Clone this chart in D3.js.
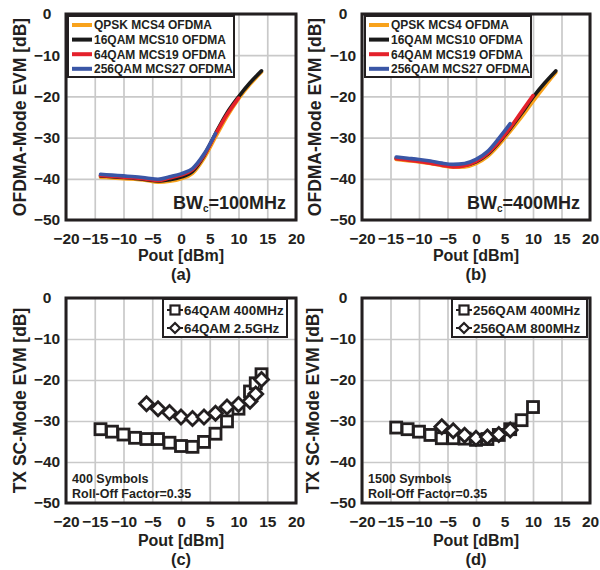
<!DOCTYPE html>
<html>
<head>
<meta charset="utf-8">
<script src="https://cdn.jsdelivr.net/npm/d3@7"></script>
<style>
  body { margin: 0; background: #fff; }
  svg text { font-family: "Liberation Sans", Arial, sans-serif; font-weight: bold; fill: #231f20; }
</style>
</head>
<body>
<div id="chart"></div>
<script>
// ---- data ----
const xTicks = [-20, -15, -10, -5, 0, 5, 10, 15, 20];
const yTicks = [0, -10, -20, -30, -40, -50];

// (a) BWc = 100MHz
const poutA = [-14, -12, -10, -8, -6, -4, -2, 0, 2, 4, 6, 8, 10, 12, 14];
const qpskA  = [-39.6, -39.8, -40.0, -40.1, -40.4, -40.8, -40.6, -40.0, -38.7, -35.0, -29.9, -24.9, -20.6, -17.1, -14.1];
const qam16A = [-39.3, -39.5, -39.7, -39.9, -40.2, -40.5, -40.2, -39.6, -38.2, -34.4, -29.0, -24.0, -20.1, -16.7, -13.8];
const qam64A = [-39.2, -39.4, -39.6, -39.8, -40.1, -40.4, -39.8, -39.1, -37.8, -34.3, -29.2, -24.4, -20.4];
const qam256A = [-38.9, -39.1, -39.3, -39.5, -39.8, -40.1, -39.5, -38.8, -37.5, -34.0, -29.0];

// (b) BWc = 400MHz
const poutB = [-14, -12, -10, -8, -6, -4, -2, 0, 2, 4, 6, 8, 10, 12, 14];
const qpskB  = [-35.3, -35.6, -35.9, -36.3, -36.8, -37.2, -37.1, -36.3, -34.6, -31.8, -28.5, -25.0, -21.2, -17.6, -14.2];
const qam16B = [-35.0, -35.3, -35.6, -36.0, -36.5, -36.9, -36.7, -35.9, -34.1, -31.2, -27.8, -24.1, -20.2, -16.8, -13.8];
const qam64B = [-35.1, -35.4, -35.8, -36.2, -36.7, -37.1, -36.8, -35.8, -33.9, -31.0, -27.6, -23.7, -19.8];
const qam256B = [-34.7, -35.0, -35.3, -35.7, -36.2, -36.5, -36.3, -35.3, -33.4, -30.2, -26.6];

// (c) SC mode, 64QAM
const poutC400 = [-14, -12, -10, -8, -6, -4, -2, 0, 2, 4, 6, 8, 10, 12, 13, 14];
const evmC400  = [-32.0, -32.6, -33.3, -34.1, -34.4, -34.4, -35.3, -36.1, -36.3, -35.1, -33.1, -30.1, -27.0, -22.8, -20.8, -18.6];
const poutC25  = [-6, -4, -2, 0, 2, 4, 6, 8, 10, 12, 13, 14];
const evmC25   = [-25.8, -27.0, -27.9, -29.0, -29.4, -29.0, -28.1, -26.6, -26.0, -25.2, -23.4, -19.9];

// (d) SC mode, 256QAM
const poutD400 = [-14, -12, -10, -8, -6, -4, -2, 0, 2, 4, 6, 8, 10];
const evmD400  = [-31.6, -32.0, -32.6, -33.4, -34.2, -34.2, -34.3, -34.6, -34.4, -33.4, -32.0, -29.8, -26.6];
const poutD800 = [-6, -4, -2, 0, 2, 4, 6];
const evmD800  = [-31.4, -32.4, -33.5, -34.2, -33.9, -33.3, -32.2];

const ofdmaNames = ["QPSK MCS4 OFDMA", "16QAM MCS10 OFDMA", "64QAM MCS19 OFDMA", "256QAM MCS27 OFDMA"];
const ofdmaColors = ["#f8a21c", "#1a1a1a", "#e4212b", "#3a56a6"];

const zip = (xs, ys) => ys.map((v, i) => ({x: xs[i], y: v}));

const svg = d3.select("#chart").append("svg")
    .attr("width", 600).attr("height", 570);

function panel(box, opts) {
    const x = d3.scaleLinear().domain([-20, 20]).range([box.l, box.r]);
    const y = d3.scaleLinear().domain([-50, 0]).range([box.b, box.t]);
    const g = svg.append("g");

    // grid
    g.append("g")
        .attr("transform", `translate(0,${box.b})`)
        .call(d3.axisBottom(x).tickValues(xTicks).tickSize(-(box.b - box.t)).tickFormat(""))
        .call(a => a.select(".domain").remove())
        .selectAll("line").attr("stroke", "#c9c9c9").attr("stroke-width", 1.7);
    g.append("g")
        .attr("transform", `translate(${box.l},0)`)
        .call(d3.axisLeft(y).tickValues(yTicks).tickSize(-(box.r - box.l)).tickFormat(""))
        .call(a => a.select(".domain").remove())
        .selectAll("line").attr("stroke", "#c9c9c9").attr("stroke-width", 1.7);

    // tick labels
    g.append("g")
        .attr("transform", `translate(0,${box.b + 9})`)
        .call(d3.axisBottom(x).tickValues(xTicks).tickSize(0).tickPadding(0))
        .call(a => a.select(".domain").remove())
        .selectAll("text").style("font-size", "15.5px").attr("dy", "0.95em");
    g.append("g")
        .attr("transform", `translate(${box.l - 10},0)`)
        .call(d3.axisLeft(y).tickValues(yTicks).tickSize(0).tickPadding(0))
        .call(a => a.select(".domain").remove())
        .selectAll("text").style("font-size", "15.5px").attr("text-anchor", "middle").attr("x", -9);

    // axis titles
    const cx = (box.l + box.r) / 2;
    g.append("text").attr("x", cx).attr("y", box.b + opts.dyTitle)
        .attr("text-anchor", "middle").style("font-size", "16px").text("Pout [dBm]");
    g.append("text").attr("x", cx).attr("y", box.b + opts.dyTitle + 19)
        .attr("text-anchor", "middle").style("font-size", "16.5px").text(opts.tag);
    g.append("text")
        .attr("transform", `translate(${box.l - opts.yTitleOff},${(box.t + box.b) / 2}) rotate(-90)`)
        .attr("text-anchor", "middle").attr("dy", "0.36em").style("font-size", "17.5px").text(opts.ytitle);

    opts.draw(g, x, y);

    // frame
    g.append("rect").attr("x", box.l).attr("y", box.t)
        .attr("width", box.r - box.l).attr("height", box.b - box.t)
        .attr("fill", "none").attr("stroke", "#231f20").attr("stroke-width", 3);
    return {x, y, g};
}

function ofdmaDraw(pout, series, bw, legX) {
    return (g, x, y) => {
        const line = d3.line().x(d => x(d.x)).y(d => y(d.y)).curve(d3.curveMonotoneX);
        series.forEach((s, i) => {
            g.append("path").datum(zip(pout, s))
                .attr("d", line).attr("fill", "none")
                .attr("stroke", ofdmaColors[i]).attr("stroke-width", 3.6)
                .attr("stroke-linecap", "round");
        });
        // legend
        const lg = g.append("g");
        lg.append("rect").attr("x", legX).attr("y", 16).attr("width", 166).attr("height", 61)
            .attr("fill", "#fff").attr("stroke", "#231f20").attr("stroke-width", 2);
        ofdmaNames.forEach((n, i) => {
            const yy = 25 + i * 14.6;
            lg.append("line").attr("x1", legX + 4).attr("x2", legX + 24)
                .attr("y1", yy).attr("y2", yy)
                .attr("stroke", ofdmaColors[i]).attr("stroke-width", 4);
            lg.append("text").attr("x", legX + 26).attr("y", yy).attr("dy", "0.36em")
                .style("font-size", "12px").text(n);
        });
        const t = g.append("text").attr("x", x(20) - 10).attr("y", y(-40) + 30)
            .attr("text-anchor", "end").style("font-size", "18px");
        t.append("tspan").text("BW");
        t.append("tspan").style("font-size", "10px").attr("dy", 3).text("c");
        t.append("tspan").attr("dy", -3).text(`=${bw}`);
    };
}

const sq = 11;
function marker(sel, kind) {
    if (kind === "square") {
        sel.append("rect").attr("x", -sq / 2).attr("y", -sq / 2).attr("width", sq).attr("height", sq)
            .attr("fill", "#fff").attr("stroke", "#231f20").attr("stroke-width", 2.8);
    } else {
        sel.append("path").attr("d", "M0,-7L7,0L0,7L-7,0Z")
            .attr("fill", "#fff").attr("stroke", "#231f20").attr("stroke-width", 2.8);
    }
}

function scDraw(sets, names, legL, legW, note) {
    return (g, x, y) => {
        const line = d3.line().x(d => x(d.x)).y(d => y(d.y));
        sets.forEach(s => {
            const pts = zip(s.x, s.y);
            g.append("path").datum(pts).attr("d", line)
                .attr("fill", "none").attr("stroke", "#231f20").attr("stroke-width", 1.5);
            g.append("g").selectAll("g").data(pts).join("g")
                .attr("transform", d => `translate(${x(d.x)},${y(d.y)})`)
                .each(function() { marker(d3.select(this), s.kind); });
        });
        const lg = g.append("g");
        lg.append("rect").attr("x", legL).attr("y", 299).attr("width", legW).attr("height", 38)
            .attr("fill", "#fff").attr("stroke", "#231f20").attr("stroke-width", 2);
        names.forEach((n, i) => {
            const yy = 310 + i * 18;
            lg.append("line").attr("x1", legL + 4).attr("x2", legL + 20).attr("y1", yy).attr("y2", yy)
                .attr("stroke", "#231f20").attr("stroke-width", 2);
            const m = lg.append("g").attr("transform", `translate(${legL + 12},${yy})`);
            if (sets[i].kind === "square") {
                m.append("rect").attr("x", -4.5).attr("y", -4.5).attr("width", 9).attr("height", 9)
                    .attr("fill", "#fff").attr("stroke", "#231f20").attr("stroke-width", 2.2);
            } else {
                m.append("path").attr("d", "M0,-5L5,0L0,5L-5,0Z")
                    .attr("fill", "#fff").attr("stroke", "#231f20").attr("stroke-width", 2.2);
            }
            lg.append("text").attr("x", legL + 21).attr("y", yy).attr("dy", "0.36em")
                .style("font-size", "13.4px").text(n);
        });
        g.append("text").attr("x", x(-20) + 6).attr("y", 478).attr("dy", "0.36em")
            .style("font-size", "12.5px").text(note);
        g.append("text").attr("x", x(-20) + 6).attr("y", 493).attr("dy", "0.36em")
            .style("font-size", "12.5px").text("Roll-Off Factor=0.35");
    };
}

panel({l: 66, r: 296, t: 14, b: 220}, {
    tag: "(a)", ytitle: "OFDMA-Mode EVM [dB]", yTitleOff: 46, dyTitle: 41,
    draw: ofdmaDraw(poutA, [qpskA, qam16A, qam64A, qam256A], "100MHz", 68)
});
panel({l: 362, r: 590, t: 14, b: 220}, {
    tag: "(b)", ytitle: "OFDMA-Mode EVM [dB]", yTitleOff: 47, dyTitle: 41,
    draw: ofdmaDraw(poutB, [qpskB, qam16B, qam64B, qam256B], "400MHz", 365)
});
panel({l: 66, r: 296, t: 298, b: 503}, {
    tag: "(c)", ytitle: "TX SC-Mode EVM [dB]", yTitleOff: 46, dyTitle: 43,
    draw: scDraw([{x: poutC400, y: evmC400, kind: "square"}, {x: poutC25, y: evmC25, kind: "diamond"}],
        ["64QAM 400MHz", "64QAM 2.5GHz"], 163, 124, "400 Symbols")
});
panel({l: 362, r: 590, t: 298, b: 503}, {
    tag: "(d)", ytitle: "TX SC-Mode EVM [dB]", yTitleOff: 49, dyTitle: 43,
    draw: scDraw([{x: poutD400, y: evmD400, kind: "square"}, {x: poutD800, y: evmD800, kind: "diamond"}],
        ["256QAM 400MHz", "256QAM 800MHz"], 452, 135, "1500 Symbols")
});
</script>
</body>
</html>
